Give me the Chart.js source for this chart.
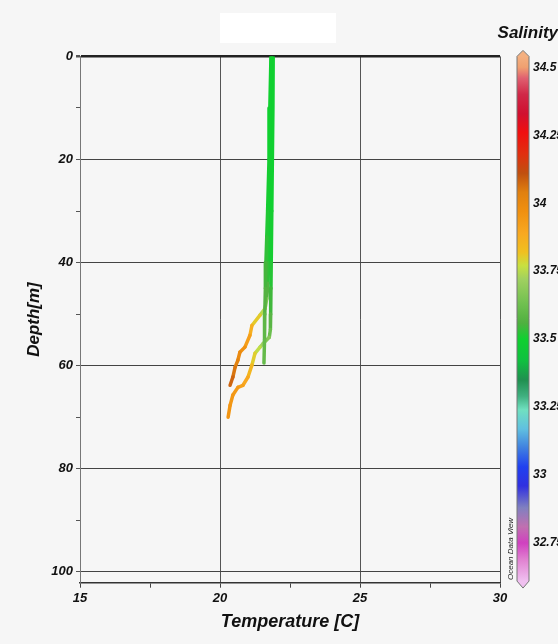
<!DOCTYPE html>
<html>
<head>
<meta charset="utf-8">
<script src="https://cdn.jsdelivr.net/npm/chart.js@4.4.0/dist/chart.umd.min.js"></script>
<style>
  body { margin: 0; background: #f6f6f6; }
  #wrap { width: 558px; height: 644px; }
</style>
</head>
<body>
<div id="wrap"><canvas id="profileChart" width="558" height="644"></canvas></div>
<script>
// profile 1: upper branch, turns left at ~48 m
const depthCast1 = [0, 5, 10, 15, 20, 25, 30, 35, 40, 44, 47, 48.9, 50.2, 52.2, 54.1, 56.4, 57.4, 58.9, 60.3, 62.2, 63.8];
const tempCast1 = [21.85, 21.84, 21.83, 21.82, 21.81, 21.8, 21.78, 21.76, 21.74, 21.71, 21.67, 21.61, 21.43, 21.14, 21.07, 20.89, 20.71, 20.64, 20.54, 20.46, 20.36];
const salCast1 = [33.5, 33.5, 33.5, 33.5, 33.5, 33.5, 33.5, 33.51, 33.52, 33.54, 33.6, 33.72, 33.77, 33.84, 33.9, 33.95, 33.98, 34.01, 34.04, 34.07, 34.09];

// profile 2: right strand down to ~54 m, then lower branch
const depthCast2 = [0, 10, 20, 30, 40, 45, 50, 53, 54.5, 55.7, 56.4, 57.6, 59.9, 62.2, 63.8, 64.2, 65.7, 67.7, 70];
const tempCast2 = [21.9, 21.89, 21.87, 21.85, 21.83, 21.82, 21.81, 21.8, 21.76, 21.54, 21.43, 21.25, 21.14, 21.0, 20.82, 20.64, 20.46, 20.36, 20.29];
const salCast2 = [33.5, 33.5, 33.5, 33.5, 33.51, 33.53, 33.56, 33.6, 33.64, 33.7, 33.74, 33.78, 33.82, 33.88, 33.9, 33.93, 33.94, 33.95, 33.96];

// profile 3: left strand, ends at ~59.5 m
const depthCast3 = [0, 10, 20, 30, 35, 40, 45, 50, 55, 59.5];
const tempCast3 = [21.82, 21.78, 21.75, 21.7, 21.67, 21.64, 21.62, 21.6, 21.59, 21.57];
const salCast3 = [33.5, 33.5, 33.5, 33.51, 33.52, 33.54, 33.56, 33.58, 33.6, 33.61];

const tempTicks = [15, 20, 25, 30];
const depthTicks = [0, 20, 40, 60, 80, 100];
const salTicks = [32.75, 33, 33.25, 33.5, 33.75, 34, 34.25, 34.5];

// colour bar stops
const salStops = [34.54, 34.5, 34.46, 34.4, 34.33, 34.26, 34.18, 34.11, 34.04, 33.97, 33.89, 33.82, 33.77, 33.72, 33.63, 33.56, 33.5, 33.42, 33.35, 33.29, 33.24, 33.17, 33.1, 33.03, 32.96, 32.88, 32.81, 32.75, 32.69, 32.61];
const salColors = ['#f4b080', '#f0a070', '#e06070', '#d02848', '#d01030', '#f01010', '#e03010', '#c05010', '#e08010', '#f09010', '#f8a820', '#f0c020', '#c8e040', '#a0d060', '#70c050', '#50b040', '#10d030', '#10c040', '#209050', '#40b080', '#70e0c0', '#60c0e0', '#4080e0', '#2040f0', '#3030e0', '#8080c0', '#c070b0', '#d040c0', '#e080d0', '#f0c0f0'];

const hexToRgb = h => [parseInt(h.substr(1, 2), 16), parseInt(h.substr(3, 2), 16), parseInt(h.substr(5, 2), 16)];

function salColor(v) {
    if (v >= salStops[0]) return salColors[0];
    for (let i = 1; i < salStops.length; i++) {
        if (v >= salStops[i]) {
            const t = (salStops[i - 1] - v) / (salStops[i - 1] - salStops[i]);
            const a = hexToRgb(salColors[i - 1]), b = hexToRgb(salColors[i]);
            const c = a.map((x, k) => Math.round(x + (b[k] - x) * t));
            return `rgb(${c[0]},${c[1]},${c[2]})`;
        }
    }
    return salColors[salColors.length - 1];
}

const makeCast = (temps, depths, sals) => ({
    data: temps.map((t, i) => ({ x: t, y: depths[i] })),
    showLine: true,
    pointRadius: 0,
    borderWidth: 3.5,
    borderCapStyle: 'round',
    borderJoinStyle: 'round',
    borderColor: salColor(sals[0]),
    segment: {
        borderColor: ctx => salColor((sals[ctx.p0DataIndex] + sals[ctx.p1DataIndex]) / 2)
    }
});

const font = (size) => ({ family: '"Liberation Sans", Arial, sans-serif', size: size, weight: 'bold', style: 'italic' });

// background, blank title box, colour bar
const decorations = {
    id: 'decorations',
    beforeDraw(chart) {
        const ctx = chart.ctx;
        ctx.save();
        ctx.fillStyle = '#f6f6f6';
        ctx.fillRect(0, 0, chart.width, chart.height);
        ctx.fillStyle = '#ffffff';
        ctx.fillRect(220, 13, 116, 30);
        ctx.restore();
    },
    afterDraw(chart) {
        const ctx = chart.ctx;
        const sal = chart.scales.sal;
        const x0 = 517, x1 = 529, xm = (x0 + x1) / 2;
        const yTop = sal.getPixelForValue(salStops[0]);
        const yBot = sal.getPixelForValue(salStops[salStops.length - 1]);
        const grad = ctx.createLinearGradient(0, yTop, 0, yBot);
        salStops.forEach((v, i) => {
            grad.addColorStop((sal.getPixelForValue(v) - yTop) / (yBot - yTop), salColors[i]);
        });
        ctx.save();
        ctx.beginPath();
        ctx.moveTo(x0, yTop);
        ctx.lineTo(xm, yTop - 6);
        ctx.lineTo(x1, yTop);
        ctx.lineTo(x1, yBot);
        ctx.lineTo(xm, yBot + 7);
        ctx.lineTo(x0, yBot);
        ctx.closePath();
        ctx.fillStyle = grad;
        ctx.fill();
        ctx.strokeStyle = '#777';
        ctx.lineWidth = 1;
        ctx.stroke();

        ctx.translate(511, 580);
        ctx.rotate(-Math.PI / 2);
        ctx.fillStyle = '#222';
        ctx.font = 'italic 8px "Liberation Sans", Arial, sans-serif';
        ctx.textBaseline = 'middle';
        ctx.fillText('Ocean Data View', 0, 0);
        ctx.restore();
    }
};

new Chart(document.getElementById('profileChart'), {
    type: 'scatter',
    data: {
        datasets: [
            makeCast(tempCast3, depthCast3, salCast3),
            makeCast(tempCast2, depthCast2, salCast2),
            makeCast(tempCast1, depthCast1, salCast1)
        ]
    },
    plugins: [decorations],
    options: {
        responsive: false,
        animation: false,
        layout: { padding: 0 },
        plugins: {
            legend: { display: false },
            tooltip: { enabled: false },
            title: {
                display: true,
                text: 'Salinity',
                align: 'end',
                color: '#111',
                font: font(17),
                padding: { top: 23, bottom: 13 }
            }
        },
        scales: {
            x: {
                type: 'linear',
                position: 'bottom',
                min: 15,
                max: 30,
                afterFit: s => { s.height = 61.3; },
                ticks: {
                    stepSize: 2.5,
                    color: '#111',
                    font: font(13),
                    padding: 3,
                    maxRotation: 0,
                    callback: v => tempTicks.includes(v) ? String(v) : ''
                },
                grid: {
                    color: c => (c.tick && c.tick.value % 5 === 0) ? '#555' : 'rgba(0,0,0,0)',
                    tickColor: '#444',
                    tickLength: 5
                },
                border: { color: '#333', width: 1.5 },
                title: {
                    display: true,
                    text: 'Temperature [C]',
                    color: '#111',
                    font: font(18),
                    padding: { top: 0, bottom: 11.5 }
                }
            },
            y: {
                type: 'linear',
                position: 'left',
                reverse: true,
                min: 0,
                max: 102.1,
                afterFit: s => { s.width = 80; },
                ticks: {
                    stepSize: 10,
                    includeBounds: false,
                    color: '#111',
                    font: font(13),
                    padding: 3,
                    callback: v => depthTicks.includes(v) ? String(v) : ''
                },
                grid: {
                    color: c => (c.tick && c.tick.value % 20 === 0) ? (c.tick.value === 0 ? '#222' : '#444') : 'rgba(0,0,0,0)',
                    lineWidth: c => (c.tick && c.tick.value === 0) ? 2.5 : 1,
                    tickColor: '#555',
                    tickLength: 4
                },
                border: { color: '#777', width: 1 },
                title: {
                    display: true,
                    text: 'Depth[m]',
                    color: '#111',
                    font: font(17),
                    padding: { top: 24, bottom: 0 }
                }
            },
            sal: {
                type: 'linear',
                position: 'right',
                min: 32.604,
                max: 34.540,
                afterFit: s => { s.width = 58; },
                afterBuildTicks: s => { s.ticks = salTicks.map(v => ({ value: v })); },
                ticks: {
                    color: '#111',
                    font: font(12),
                    padding: 25,
                    callback: v => String(v)
                },
                grid: { display: false, drawOnChartArea: false },
                border: { display: false }
            }
        }
    }
});
</script>
</body>
</html>
